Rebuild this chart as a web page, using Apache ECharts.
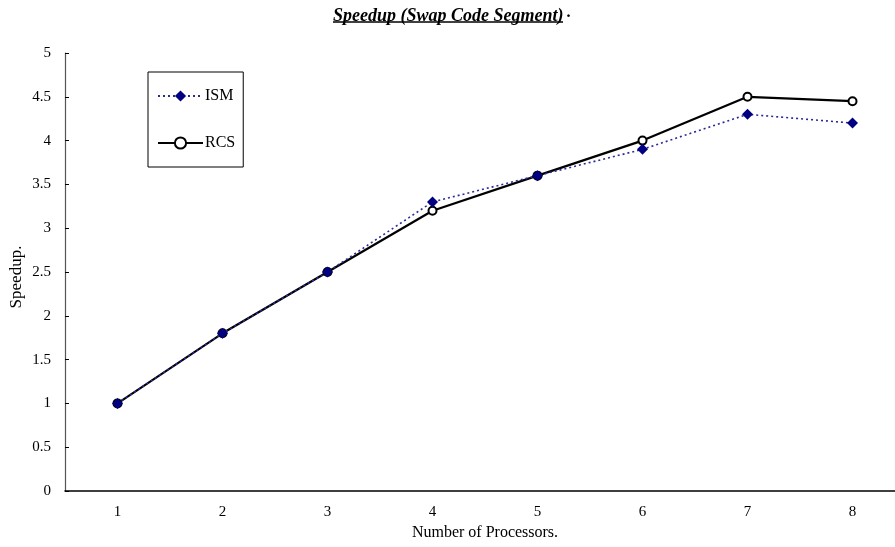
<!DOCTYPE html>
<html lang="en">
<head>
    <meta charset="UTF-8">
    <script src="https://cdn.jsdelivr.net/npm/echarts@6/dist/echarts.min.js"></script>
    <title>Speedup</title>
</head>
<style>
    body{
        margin: 0;
        padding: 0;
        background: #fff;
    }
</style>
<body>
<div id="main" style="width: 895px;height:547px;"></div>
</body>
<script>
    // processors on the x axis
    var processors = ['1', '2', '3', '4', '5', '6', '7', '8'];
    // speedup values
    var ism = [1, 1.8, 2.5, 3.3, 3.6, 3.9, 4.3, 4.2];
    var rcs = [1, 1.8, 2.5, 3.2, 3.6, 4.0, 4.5, 4.45];

    var font = '"Liberation Serif", "Times New Roman", serif';

    var chart = echarts.init(document.getElementById('main'));
    var option = {
        animation: false,
        textStyle: { fontFamily: font },
        title: {
            text: 'Speedup (Swap Code Segment)',
            left: 328,
            top: 2,
            textStyle: {
                fontFamily: font,
                fontSize: 18,
                fontWeight: 'bold',
                fontStyle: 'italic',
                color: '#000'
            }
        },
        graphic: [
            {
                type: 'line',
                shape: { x1: 333, y1: 22, x2: 563, y2: 22 },
                style: { stroke: '#000', lineWidth: 1.3 }
            },
            {
                type: 'text',
                left: 567,
                top: 4,
                style: { text: '.', font: 'bold italic 17px ' + font, fill: '#000' }
            }
        ],
        legend: {
            orient: 'vertical',
            left: 148,
            top: 72,
            padding: [16, 8, 16, 9],
            itemGap: 31,
            itemWidth: 45,
            itemHeight: 14,
            borderColor: '#000',
            borderWidth: 1,
            textStyle: { fontFamily: font, fontSize: 16, color: '#000', padding: [0, 0, 0, -3] },
            data: ['ISM', 'RCS']
        },
        grid: {
            left: 65,
            right: -10,
            top: 53,
            bottom: 56,
            containLabel: false,
            outerBoundsMode: 'none'
        },
        xAxis: {
            type: 'category',
            data: processors,
            name: 'Number of Processors.',
            nameLocation: 'middle',
            nameGap: 34,
            nameMoveOverlap: false,
            nameTextStyle: { fontFamily: font, fontSize: 16, color: '#000' },
            boundaryGap: true,
            axisLine: { lineStyle: { color: '#000', width: 1.5 } },
            axisTick: { inside: true, length: 5, lineStyle: { color: '#000' } },
            axisLabel: { fontFamily: font, fontSize: 15, color: '#000', margin: 14 },
            splitLine: { show: false }
        },
        yAxis: {
            type: 'value',
            min: 0,
            max: 5,
            interval: 0.5,
            name: 'Speedup.',
            nameLocation: 'middle',
            nameGap: 40,
            nameMoveOverlap: false,
            nameRotate: 90,
            nameTextStyle: { fontFamily: font, fontSize: 17, color: '#000', padding: [0, 0, 0, -10] },
            axisLine: { show: true, lineStyle: { color: '#555', width: 1.2 } },
            axisTick: { show: true, inside: true, length: 4, lineStyle: { color: '#000' } },
            axisLabel: { fontFamily: font, fontSize: 15, color: '#000', margin: 14 },
            splitLine: { show: false }
        },
        series: [
            {
                name: 'RCS',
                type: 'line',
                data: rcs,
                symbol: 'emptyCircle',
                symbolSize: 8,
                itemStyle: { color: '#000', borderWidth: 1.2 },
                lineStyle: { color: '#000', width: 2.2 },
                z: 2
            },
            {
                name: 'ISM',
                type: 'line',
                data: ism,
                symbol: 'diamond',
                symbolSize: 11,
                itemStyle: { color: '#000080' },
                lineStyle: { color: '#2a2a9a', width: 1.6, type: [2, 3] },
                z: 3
            }
        ]
    };
    chart.setOption(option);
</script>
</html>
